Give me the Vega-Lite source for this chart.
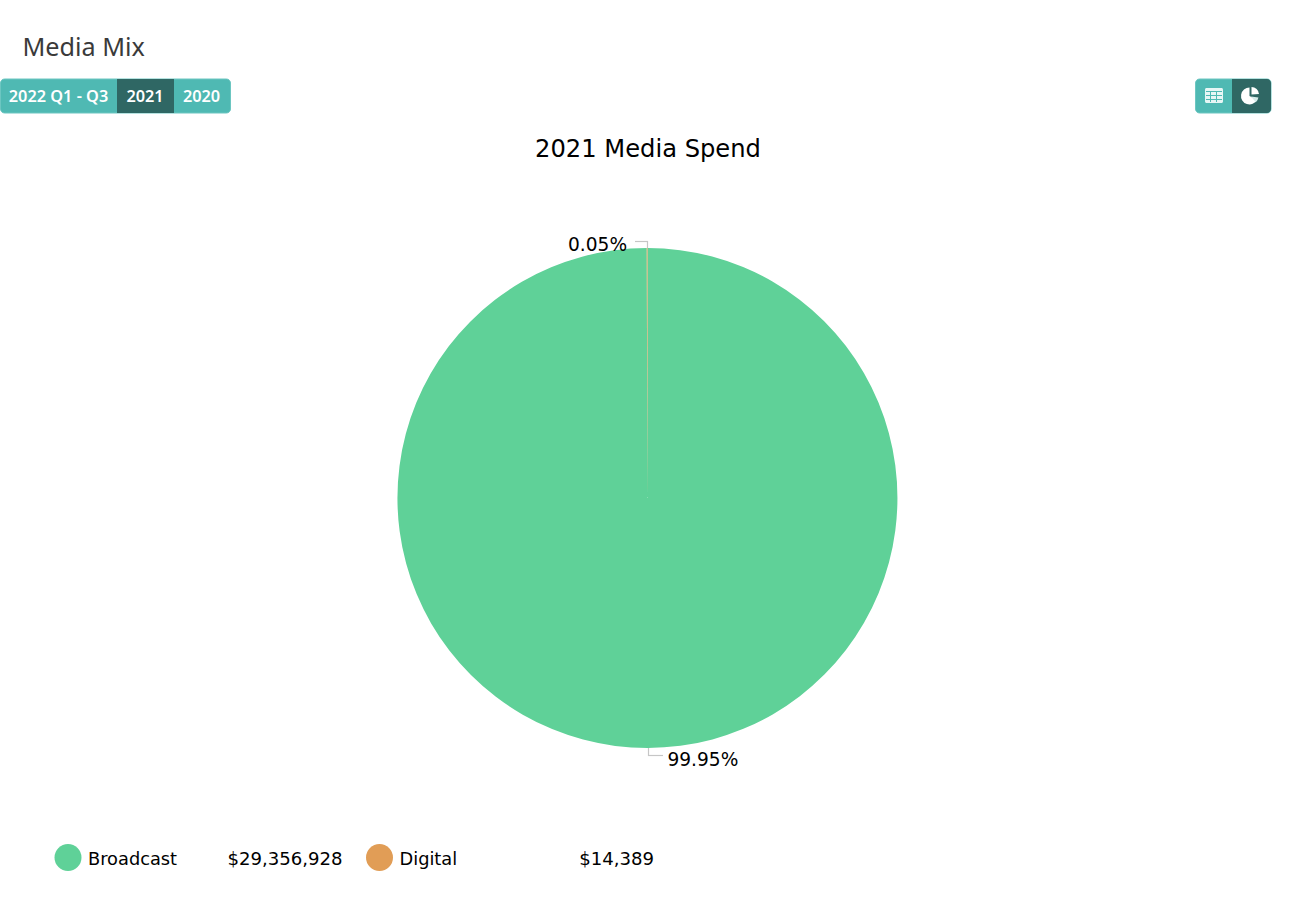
{
  "$schema": "https://vega.github.io/schema/vega-lite/v6.json",
  "width": 1289,
  "height": 901,
  "autosize": {"type": "fit", "contains": "padding"},
  "padding": 0,
  "background": "#ffffff",
  "view": {"stroke": null},
  "config": {"text": {"font": "DejaVu Sans"}},
  "data": {
    "values": [
      {"channel": "Broadcast", "spend": 29356928, "share": 0.9995, "slice": 1},
      {"channel": "Digital", "spend": 14389, "share": 0.0005, "slice": 2}
    ]
  },
  "layer": [
    {
      "data": {"values": [{"label": "Media Mix"}]},
      "mark": {"type": "text", "align": "left", "baseline": "middle", "font": "Noto Sans", "fontSize": 25.2, "fill": "#3a3a3a"},
      "encoding": {"text": {"field": "label"}, "x": {"value": 22.5}, "y": {"value": 48}}
    },
    {
      "data": {"values": [{"label": "2021 Media Spend"}]},
      "mark": {"type": "text", "align": "center", "baseline": "middle", "fontSize": 24.2, "fill": "#000000"},
      "encoding": {"text": {"field": "label"}, "x": {"value": 648}, "y": {"value": 150}}
    },
    {
      "data": {"values": [{"id": "years"}]},
      "mark": {"type": "rect", "fill": "#4fb9b3", "stroke": "#6cc6c1", "cornerRadius": 4},
      "encoding": {"x": {"value": 0.5}, "x2": {"value": 230.5}, "y": {"value": 79}, "y2": {"value": 113}}
    },
    {
      "data": {"values": [{"id": "selected year"}]},
      "mark": {"type": "rect", "fill": "#2f6764"},
      "encoding": {"x": {"value": 117}, "x2": {"value": 174}, "y": {"value": 79}, "y2": {"value": 113}}
    },
    {
      "data": {"values": [{"label": "2022 Q1 - Q3"}]},
      "mark": {"type": "text", "align": "center", "baseline": "middle", "font": "Noto Sans", "fontSize": 16.3, "fontWeight": 600, "fill": "#ffffff"},
      "encoding": {"text": {"field": "label"}, "x": {"value": 58.5}, "y": {"value": 97}}
    },
    {
      "data": {"values": [{"label": "2021"}]},
      "mark": {"type": "text", "align": "center", "baseline": "middle", "font": "Noto Sans", "fontSize": 16.3, "fontWeight": 600, "fill": "#ffffff"},
      "encoding": {"text": {"field": "label"}, "x": {"value": 145}, "y": {"value": 97}}
    },
    {
      "data": {"values": [{"label": "2020"}]},
      "mark": {"type": "text", "align": "center", "baseline": "middle", "font": "Noto Sans", "fontSize": 16.3, "fontWeight": 600, "fill": "#ffffff"},
      "encoding": {"text": {"field": "label"}, "x": {"value": 201.5}, "y": {"value": 97}}
    },
    {
      "data": {"values": [{"id": "view switch"}]},
      "mark": {"type": "rect", "fill": "#4fb9b3", "stroke": "#6cc6c1", "cornerRadius": 4},
      "encoding": {"x": {"value": 1195.5}, "x2": {"value": 1271}, "y": {"value": 79}, "y2": {"value": 113}}
    },
    {
      "data": {"values": [{"id": "selected view"}]},
      "mark": {"type": "rect", "fill": "#2f6764", "cornerRadius": 4},
      "encoding": {"x": {"value": 1232}, "x2": {"value": 1271}, "y": {"value": 79}, "y2": {"value": 113}}
    },
    {
      "data": {"values": [{"id": "selected view edge"}]},
      "mark": {"type": "rect", "fill": "#2f6764"},
      "encoding": {"x": {"value": 1232}, "x2": {"value": 1240}, "y": {"value": 79}, "y2": {"value": 113}}
    },
    {
      "data": {"values": [{"id": "table icon"}]},
      "mark": {"type": "rect", "fill": "#e6f6f5", "cornerRadius": 1.5},
      "encoding": {"x": {"value": 1205}, "x2": {"value": 1223}, "y": {"value": 88}, "y2": {"value": 103}}
    },
    {
      "data": {"values": [{"id": "column line 1"}]},
      "mark": {"type": "rule", "stroke": "#4fb9b3", "strokeWidth": 1},
      "encoding": {"x": {"value": 1210.5}, "y": {"value": 91}, "y2": {"value": 102}}
    },
    {
      "data": {"values": [{"id": "column line 2"}]},
      "mark": {"type": "rule", "stroke": "#4fb9b3", "strokeWidth": 1},
      "encoding": {"x": {"value": 1216.5}, "y": {"value": 91}, "y2": {"value": 102}}
    },
    {
      "data": {"values": [{"id": "row line 1"}]},
      "mark": {"type": "rule", "stroke": "#4fb9b3", "strokeWidth": 1},
      "encoding": {"y": {"value": 91.5}, "x": {"value": 1206}, "x2": {"value": 1222}}
    },
    {
      "data": {"values": [{"id": "row line 2"}]},
      "mark": {"type": "rule", "stroke": "#4fb9b3", "strokeWidth": 1},
      "encoding": {"y": {"value": 95.5}, "x": {"value": 1206}, "x2": {"value": 1222}}
    },
    {
      "data": {"values": [{"id": "row line 3"}]},
      "mark": {"type": "rule", "stroke": "#4fb9b3", "strokeWidth": 1},
      "encoding": {"y": {"value": 99.5}, "x": {"value": 1206}, "x2": {"value": 1222}}
    },
    {
      "data": {"values": [{"id": "pie icon main"}]},
      "mark": {"type": "arc", "fill": "#ffffff", "radius": 8.5, "theta": 2.05, "theta2": 6.283},
      "encoding": {"x": {"value": 1249.5}, "y": {"value": 96}}
    },
    {
      "data": {"values": [{"id": "pie icon top wedge"}]},
      "mark": {"type": "arc", "fill": "#ffffff", "radius": 7.5, "theta": 0, "theta2": 1.5},
      "encoding": {"x": {"value": 1251.5}, "y": {"value": 94.5}}
    },
    {
      "data": {"values": [{"id": "pie icon low wedge"}]},
      "mark": {"type": "arc", "fill": "#d5ecea", "radius": 7.5, "theta": 1.72, "theta2": 2.45},
      "encoding": {"x": {"value": 1251}, "y": {"value": 96.5}}
    },
    {
      "mark": {"type": "arc", "radius": 250},
      "encoding": {
        "theta": {"field": "spend", "type": "quantitative", "stack": true},
        "order": {"field": "slice", "type": "ordinal"},
        "color": {
          "field": "channel",
          "type": "nominal",
          "legend": null,
          "scale": {"domain": ["Broadcast", "Digital"], "range": ["#5fd198", "#e19d56"]}
        },
        "x": {"value": 647.5},
        "y": {"value": 498}
      }
    },
    {
      "data": {"values": [{"id": "top leader"}]},
      "mark": {"type": "rule", "stroke": "#c6c6c6", "strokeWidth": 1.2},
      "encoding": {"x": {"value": 635}, "x2": {"value": 648}, "y": {"value": 241.5}}
    },
    {
      "data": {"values": [{"id": "top leader drop"}]},
      "mark": {"type": "rule", "stroke": "#c6c6c6", "strokeWidth": 1.2},
      "encoding": {"x": {"value": 647.5}, "y": {"value": 241}, "y2": {"value": 248}}
    },
    {
      "data": {"values": [{"id": "bottom leader"}]},
      "mark": {"type": "rule", "stroke": "#c6c6c6", "strokeWidth": 1.2},
      "encoding": {"x": {"value": 648}, "x2": {"value": 663}, "y": {"value": 755.5}}
    },
    {
      "data": {"values": [{"id": "bottom leader drop"}]},
      "mark": {"type": "rule", "stroke": "#c6c6c6", "strokeWidth": 1.2},
      "encoding": {"x": {"value": 648.5}, "y": {"value": 748}, "y2": {"value": 756}}
    },
    {
      "mark": {"type": "text", "align": "right", "baseline": "middle", "fontSize": 18.6, "fill": "#000000", "radius": 253, "dx": -20},
      "encoding": {
        "theta": {"field": "spend", "type": "quantitative", "stack": true},
        "order": {"field": "slice", "type": "ordinal"},
        "detail": {"field": "channel"},
        "text": {"field": "share", "type": "quantitative", "format": ".2%", "condition": {"test": "datum.channel === 'Broadcast'", "value": ""}},
        "x": {"value": 647.5},
        "y": {"value": 498}
      }
    },
    {
      "mark": {"type": "text", "align": "left", "baseline": "middle", "fontSize": 18.6, "fill": "#000000", "radius": 262, "dx": 19.5},
      "encoding": {
        "theta": {"field": "spend", "type": "quantitative", "stack": true},
        "order": {"field": "slice", "type": "ordinal"},
        "detail": {"field": "channel"},
        "text": {"field": "share", "type": "quantitative", "format": ".2%", "condition": {"test": "datum.channel === 'Digital'", "value": ""}},
        "x": {"value": 647.5},
        "y": {"value": 498}
      }
    },
    {
      "mark": {"type": "point", "filled": true, "opacity": 1, "size": 729},
      "encoding": {
        "x": {"field": "channel", "type": "nominal", "axis": null, "scale": {"type": "point", "padding": 0, "domain": ["Broadcast", "Digital"], "range": [68, 379.5]}},
        "y": {"value": 857.5},
        "color": {"field": "channel", "type": "nominal", "legend": null}
      }
    },
    {
      "mark": {"type": "text", "align": "left", "baseline": "middle", "fontSize": 17.8, "fill": "#000000", "dx": 20},
      "encoding": {
        "x": {"field": "channel", "type": "nominal", "axis": null, "scale": {"type": "point", "padding": 0, "domain": ["Broadcast", "Digital"], "range": [68, 379.5]}},
        "y": {"value": 860},
        "text": {"field": "channel"}
      }
    },
    {
      "mark": {"type": "text", "align": "right", "baseline": "middle", "fontSize": 18.1, "fill": "#000000", "dx": 274.5},
      "encoding": {
        "x": {"field": "channel", "type": "nominal", "axis": null, "scale": {"type": "point", "padding": 0, "domain": ["Broadcast", "Digital"], "range": [68, 379.5]}},
        "y": {"value": 860},
        "text": {"field": "spend", "type": "quantitative", "format": "$,.0f"}
      }
    }
  ],
  "resolve": {"scale": {"x": "independent"}}
}
